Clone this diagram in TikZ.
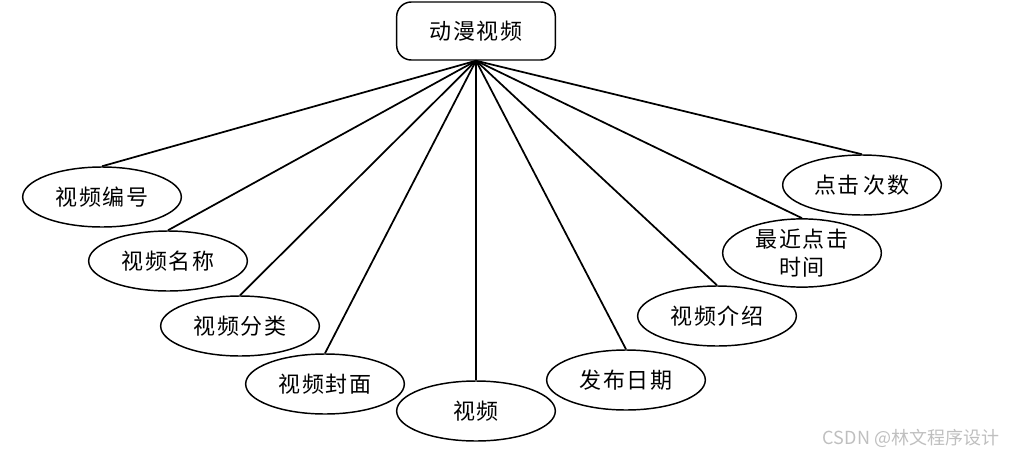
\documentclass[tikz,border=0pt]{standalone}
\usepackage{fontspec}
\newfontfamily\cjk[LetterSpace=8]{Noto Sans CJK SC}
\newfontfamily\cjkwm{Noto Sans CJK SC}
\usetikzlibrary{shapes.geometric}
\begin{document}
\begin{tikzpicture}[x=0.75pt,y=-0.75pt,
  attr/.style={ellipse,draw,line width=1.1pt,minimum width=119pt,minimum height=45pt,inner sep=0pt,font=\cjk\fontsize{16.5}{21}\selectfont,align=center},
  entity/.style={rectangle,rounded corners=11pt,draw,line width=1.1pt,minimum width=119pt,minimum height=43.5pt,inner sep=0pt,font=\cjk\fontsize{16.5}{21}\selectfont},
  link/.style={line width=1.3pt}]
\useasboundingbox (0,0) rectangle (1011,457);
\node[entity] (top) at (476,31) {动漫视频};
\node[attr] (e1) at (102,197) {视频编号};
\node[attr] (e2) at (168,261) {视频名称};
\node[attr] (e3) at (240,326) {视频分类};
\node[attr] (e4) at (325,384) {视频封面};
\node[attr] (e5) at (476,411) {视频};
\node[attr] (e6) at (626,380) {发布日期};
\node[attr] (e7) at (717,316) {视频介绍};
\node[attr] (e8) at (802,253) {最近点击\\时间};
\node[attr] (e9) at (862,185) {点击\hspace{3pt}次数};
\foreach \e in {e1,e2,e3,e4,e5,e6,e7,e8,e9}
  \draw[link] (top.south) -- (\e.north);
\node[font=\cjkwm\fontsize{13.5}{16}\selectfont,text=black!25] (wm) at (911,438) {CSDN @林文程序设计};
\end{tikzpicture}
\end{document}
